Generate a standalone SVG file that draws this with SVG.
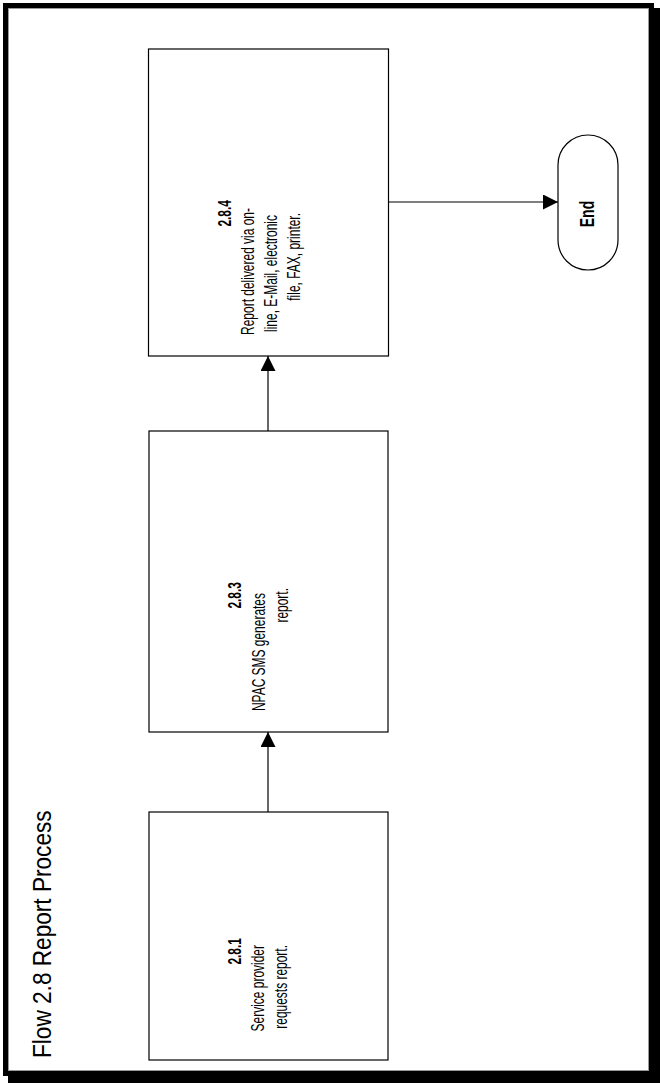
<svg xmlns="http://www.w3.org/2000/svg" width="660" height="1083" viewBox="0 0 660 1083">
<style>
.box{fill:#fff;stroke:#000;stroke-width:1.2}
.t{font-family:"Liberation Sans",Arial,sans-serif;font-size:19px;fill:#000}
.b{font-weight:bold}
.title{font-family:"Liberation Sans",Arial,sans-serif;font-size:26px;fill:#000}
.conn{stroke:#000;stroke-width:1.2;fill:none}
</style>
<defs>
<marker id="arr" markerUnits="userSpaceOnUse" markerWidth="16" markerHeight="16" refX="15" refY="7.5" orient="auto">
<path d="M0,0 L15,7.5 L0,15 Z" fill="#000"/>
</marker>
</defs>
<g id="frame">
<rect x="8" y="8" width="652" height="1075" fill="#000"/>
<rect x="5.5" y="5.5" width="646" height="1068" fill="#fff" stroke="#000" stroke-width="5"/>
<rect x="8.5" y="8.5" width="640" height="1062" fill="none" stroke="#999" stroke-width="1"/>
</g>
<g id="title">
<text class="title" transform="translate(51,1058) rotate(-90) scale(0.87,1)">Flow 2.8 Report Process</text>
</g>
<g id="connectors">
<line class="conn" x1="268" y1="812" x2="268" y2="732" marker-end="url(#arr)"/>
<line class="conn" x1="268" y1="431" x2="268" y2="356" marker-end="url(#arr)"/>
<line class="conn" x1="388" y1="202" x2="558" y2="202" marker-end="url(#arr)"/>
</g>
<g id="n281">
<rect class="box" x="149" y="812" width="239" height="248"/>
<text class="t b" text-anchor="end" transform="translate(241,938) rotate(-90) scale(0.63,1)">2.8.1</text>
<text class="t" text-anchor="end" transform="translate(264,945) rotate(-90) scale(0.63,1)">Service provider</text>
<text class="t" text-anchor="end" transform="translate(287,945) rotate(-90) scale(0.63,1)">requests report.</text>
</g>
<g id="n283">
<rect class="box" x="149" y="431" width="239" height="301"/>
<text class="t b" text-anchor="end" transform="translate(241,582) rotate(-90) scale(0.63,1)">2.8.3</text>
<text class="t" text-anchor="end" transform="translate(265,593) rotate(-90) scale(0.63,1)">NPAC SMS generates</text>
<text class="t" text-anchor="end" transform="translate(288,588) rotate(-90) scale(0.63,1)">report.</text>
</g>
<g id="n284">
<rect class="box" x="148.5" y="49" width="240" height="307"/>
<text class="t b" text-anchor="end" transform="translate(231,200) rotate(-90) scale(0.63,1)">2.8.4</text>
<text class="t" text-anchor="end" transform="translate(254,208) rotate(-90) scale(0.63,1)">Report delivered via on-</text>
<text class="t" text-anchor="end" transform="translate(277,215) rotate(-90) scale(0.63,1)">line, E-Mail, electronic</text>
<text class="t" text-anchor="end" transform="translate(300,213) rotate(-90) scale(0.63,1)">file, FAX, printer.</text>
</g>
<g id="end">
<rect class="box" x="558" y="135" width="60" height="135" rx="30" ry="30"/>
<text class="t b" text-anchor="middle" style="font-size:20px" transform="translate(594,214) rotate(-90) scale(0.7,1)">End</text>
</g>
</svg>
